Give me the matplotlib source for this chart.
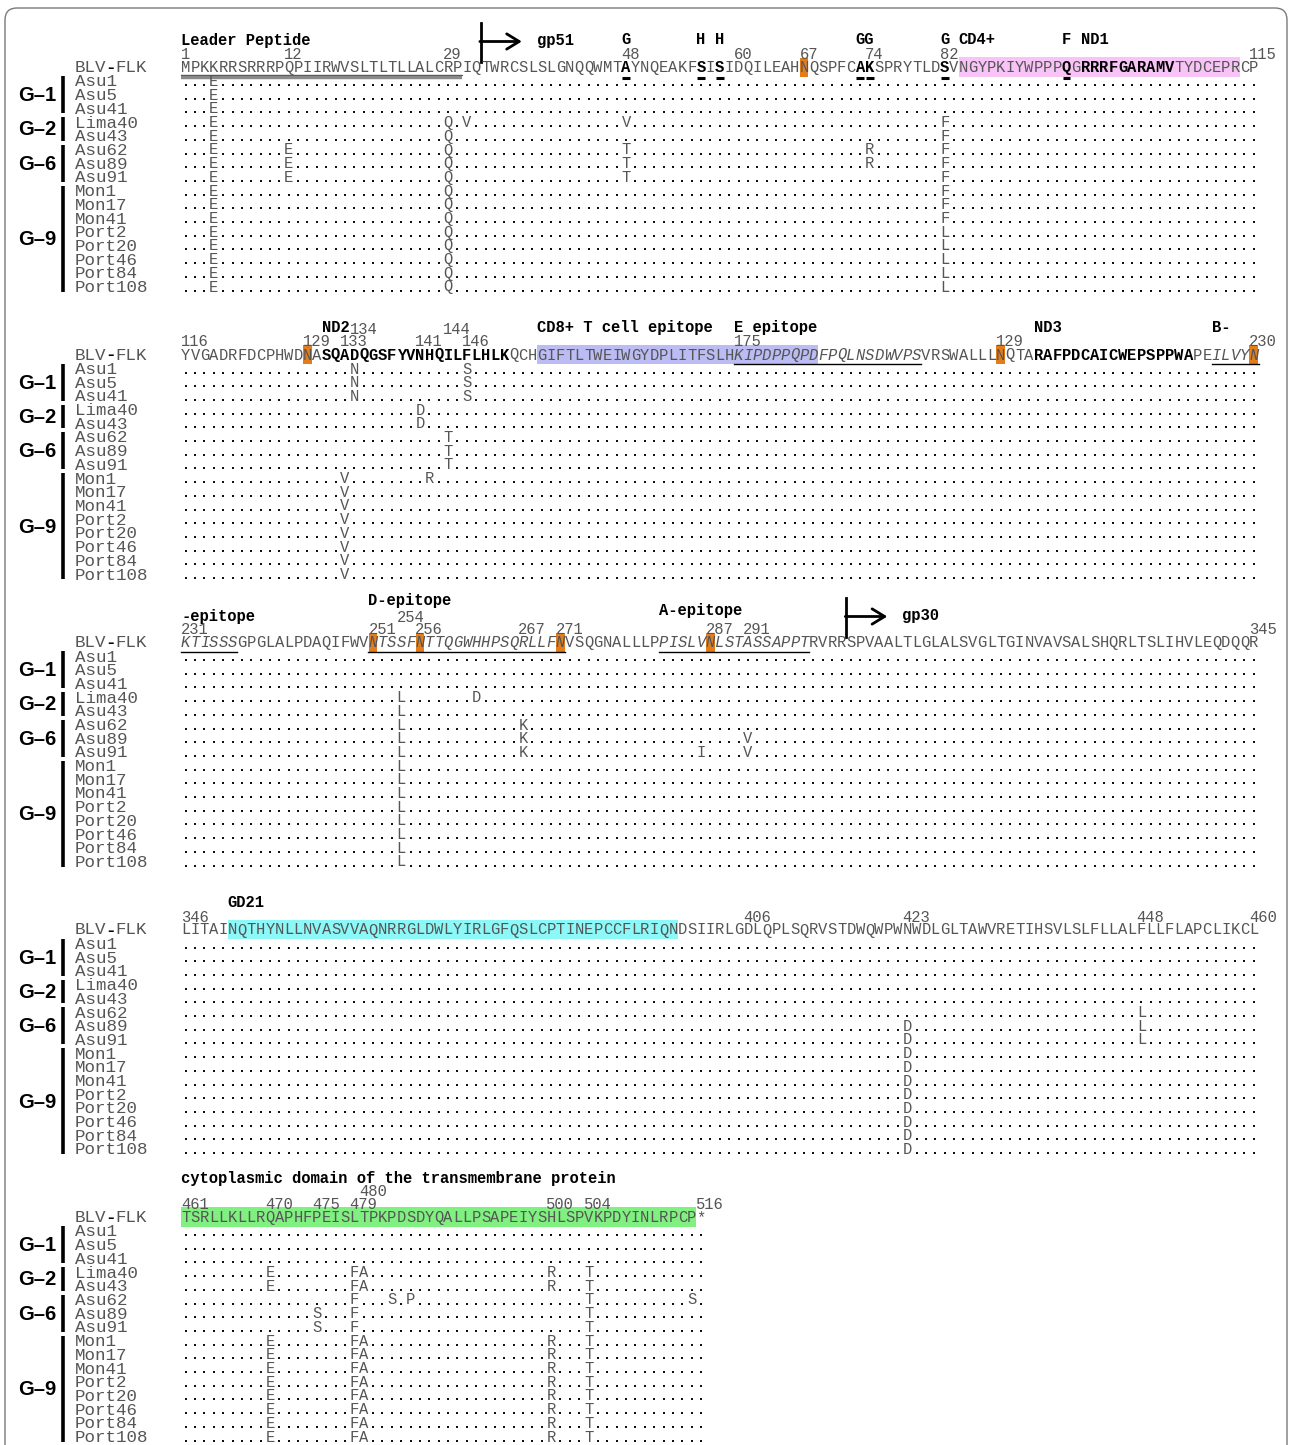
import re
import matplotlib
matplotlib.use("Agg")
import matplotlib.pyplot as plt
from matplotlib.patches import Rectangle, FancyBboxPatch

# ---------------- DATA ----------------
ENV_SEQ = ("MPKKRRSRRRPQPIIRWVSLTLTLLALCRPIQTWRCSLSLGNQQWMTAYNQEAKFSISIDQILEAHNQSPFCAKSPRYTLDSVNGYPKIYWPPPQGRRRFGARAMVTYDCEPRCP"
           "YVGADRFDCPHWDNASQADQGSFYVNHQILFLHLKQCHGIFTLTWEIWGYDPLITFSLHKIPDPPQPDFPQLNSDWVPSVRSWALLLNQTARAFPDCAICWEPSPPWAPEILVYN"
           "KTISSSGPGLALPDAQIFWVNTSSFNTTQGWHHPSQRLLFNVSQGNALLLPPISLVNLSTASSAPPTRVRRSPVAALTLGLALSVGLTGINVAVSALSHQRLTSLIHVLEQDQQR"
           "LITAINQTHYNLLNVASVVAQNRRGLDWLYIRLGFQSLCPTINEPCCFLRIQNDSIIRLGDLQPLSQRVSTDWQWPWNWDLGLTAWVRETIHSVLSLFLLALFLLFLAPCLIKCL"
           "TSRLLKLLRQAPHFPEISLTPKPDSDYQALLPSAPEIYSHLSPVKPDYINLRPCP*")
BLOCK_STARTS = [1, 116, 231, 346, 461]
BLOCK_ENDS = [115, 230, 345, 460, 516]
REFERENCE = "BLV-FLK"
STRAINS = ["Asu1", "Asu5", "Asu41", "Lima40", "Asu43", "Asu62", "Asu89", "Asu91",
           "Mon1", "Mon17", "Mon41", "Port2", "Port20", "Port46", "Port84", "Port108"]
GROUP_NAMES = ["G-1", "G-2", "G-6", "G-9"]
GROUP_MEMBERS = [["Asu1", "Asu5", "Asu41"],
                 ["Lima40", "Asu43"],
                 ["Asu62", "Asu89", "Asu91"],
                 ["Mon1", "Mon17", "Mon41", "Port2", "Port20", "Port46", "Port84", "Port108"]]

MUT_G1 = ["K4E", "D134N", "F146S"]
MUT_G9 = ["K4E", "R29Q", "A133V", "S254L", "N423D", "Q470E", "L479F", "T480A", "H500R", "V504T"]
MUTATIONS = {
    "Asu1": MUT_G1, "Asu5": MUT_G1, "Asu41": MUT_G1,
    "Lima40": ["K4E", "R29Q", "I31V", "A48V", "S82F", "N141D", "S254L", "H262D",
               "Q470E", "L479F", "T480A", "H500R", "V504T"],
    "Asu43": ["K4E", "R29Q", "S82F", "N141D", "S254L", "Q470E", "L479F", "T480A", "H500R", "V504T"],
    "Asu62": ["K4E", "Q12E", "R29Q", "A48T", "K74R", "S82F", "I144T", "S254L", "R267K",
              "F448L", "L479F", "P483S", "S485P", "V504T", "P515S"],
    "Asu89": ["K4E", "Q12E", "R29Q", "A48T", "K74R", "S82F", "I144T", "S254L", "R267K",
              "A291V", "N423D", "F448L", "P475S", "L479F", "V504T"],
    "Asu91": ["K4E", "Q12E", "R29Q", "A48T", "S82F", "I144T", "S254L", "R267K", "V286I",
              "A291V", "N423D", "F448L", "P475S", "L479F", "V504T"],
    "Mon1": MUT_G9 + ["S82F", "H142R"],
    "Mon17": MUT_G9 + ["S82F"], "Mon41": MUT_G9 + ["S82F"],
    "Port2": MUT_G9 + ["S82L"], "Port20": MUT_G9 + ["S82L"], "Port46": MUT_G9 + ["S82L"],
    "Port84": MUT_G9 + ["S82L"], "Port108": MUT_G9 + ["S82L"],
}

NUMBER_LABELS = [(1, "1"), (12, "12"), (29, "29"), (48, "48"), (60, "60"), (67, "67"), (74, "74"),
                 (82, "82"), (115, "115"),
                 (116, "116"), (129, "129"), (133, "133"), (141, "141"), (146, "146"), (175, "175"),
                 (203, "129"), (230, "230"),
                 (231, "231"), (251, "251"), (256, "256"), (267, "267"), (271, "271"), (287, "287"),
                 (291, "291"), (345, "345"),
                 (346, "346"), (406, "406"), (423, "423"), (448, "448"), (460, "460"),
                 (461, "461"), (470, "470"), (475, "475"), (479, "479"), (500, "500"), (504, "504"),
                 (516, "516")]
NUMBER_LABELS_UPPER = [(134, "134"), (144, "144"), (254, "254"), (480, "480")]

REGION_LABELS = [(1, "Leader Peptide"), (48, "G"), (56, "H"), (58, "H"), (73, "GG"), (82, "G"),
                 (84, "CD4+"), (95, "F"), (97, "ND1"),
                 (131, "ND2"), (154, "CD8+ T cell epitope"), (175, "E epitope"), (207, "ND3"), (226, "B-"),
                 (231, "-epitope"), (251, "D-epitope"), (282, "A-epitope"),
                 (351, "GD21"),
                 (461, "cytoplasmic domain of the transmembrane protein")]
CLEAVAGE_SITES = [(33, "gp51"), (302, "gp30")]

GLYCO_SITES = [67, 129, 203, 230, 251, 256, 271, 287]
BOLD_UNDERLINED = [48, 56, 58, 73, 74, 82, 95]
BOLD_RANGES = [(97, 106), (131, 150), (207, 223)]
ITALIC_UNDERLINED = [(175, 194), (226, 236), (251, 271), (282, 297)]
LEADER_RANGE = (1, 30)
HIGHLIGHT_RANGES = [(84, 113), (154, 183), (351, 398), (461, 515)]
HIGHLIGHT_COLORS = ["#f8c3f6", "#bcbcf4", "#8cf8f8", "#80f080"]

# ---------------- LAYOUT ----------------
X0, CW = 181.0, 9.37
NAME_X, NAME_CW = 75.0, 10.7
REF_Y = [67, 354.5, 642, 929.5, 1217]
ROW_DY, FIRST_DY = 13.7, 14.0
MONO = "Liberation Mono"
FS = 11.2
GRAY = "#555555"
ORANGE = "#e27d1c"
LABEL_DY = {"-epitope": -26, "D-epitope": -41, "A-epitope": -31,
            "cytoplasmic domain of the transmembrane protein": -39}

fig = plt.figure(figsize=(12.9, 14.45), dpi=100)
ax = fig.add_axes([0, 0, 1, 1])
ax.set_xlim(0, 1290)
ax.set_ylim(1445, 0)
ax.axis("off")

ax.add_patch(FancyBboxPatch((5, 8), 1282, 1470, boxstyle="round,pad=0,rounding_size=12",
                            fill=False, ec="#7a7a7a", lw=1.0, zorder=0))


def block_of(p):
    for b, (s, e) in enumerate(zip(BLOCK_STARTS, BLOCK_ENDS)):
        if s <= p <= e:
            return b, s
    return None, None


def xl(p, s):
    return X0 + (p - s) * CW


def parse(m):
    r = re.match(r"([A-Z*])(\d+)([A-Z*])", m)
    return int(r.group(2)), r.group(3)


bold_set = set(BOLD_UNDERLINED)
for a, b in BOLD_RANGES:
    bold_set.update(range(a, b + 1))
ital_set = set()
for a, b in ITALIC_UNDERLINED:
    ital_set.update(range(a, b + 1))

dots_x, dots_y = [], []
for bi, (s, e) in enumerate(zip(BLOCK_STARTS, BLOCK_ENDS)):
    R = REF_Y[bi]
    # highlights
    for (hs, he), col in zip(HIGHLIGHT_RANGES, HIGHLIGHT_COLORS):
        lo, hi = max(hs, s), min(he, e)
        if lo <= hi:
            ax.add_patch(Rectangle((xl(lo, s), R - 10), (hi - lo + 1) * CW, 19.5,
                                   fc=col, ec="none", zorder=1))
    for p in GLYCO_SITES:
        if s <= p <= e:
            ax.add_patch(Rectangle((xl(p, s) + 0.3, R - 9.5), CW - 0.6, 19,
                                   fc=ORANGE, ec="none", zorder=1.5))
    # reference sequence
    for p in range(s, e + 1):
        ch = ENV_SEQ[p - 1]
        bold = p in bold_set
        ax.text(xl(p, s) + CW / 2, R + 5, ch, family=MONO, size=FS,
                weight="bold" if bold else "normal",
                style="italic" if p in ital_set else "normal",
                color="black" if bold else GRAY, ha="center", va="baseline", zorder=3)
    # underlines
    for a, b in ITALIC_UNDERLINED:
        lo, hi = max(a, s), min(b, e)
        if lo <= hi:
            ax.plot([xl(lo, s), xl(hi + 1, s)], [R + 9.5] * 2, color="black", lw=1.0, zorder=3)
    lo, hi = max(LEADER_RANGE[0], s), min(LEADER_RANGE[1], e)
    if lo <= hi:
        ax.plot([xl(lo, s), xl(hi + 1, s)], [R + 9.5] * 2, color="#8a8a8a", lw=3.2,
                solid_capstyle="butt", zorder=3)
        ax.plot([xl(lo, s), xl(hi + 1, s)], [R + 8.2] * 2, color="#5a5a5a", lw=0.8, zorder=3)
    for p in BOLD_UNDERLINED:
        if s <= p <= e:
            ax.plot([xl(p, s) + 0.8, xl(p + 1, s) - 0.8], [R + 10.5] * 2, color="black",
                    lw=2.2, solid_capstyle="butt", zorder=3)
    # reference name
    ax.text(NAME_X, R + 5, "BLV", family=MONO, size=12.6, color=GRAY, ha="left", va="baseline")
    ax.text(NAME_X + 3 * NAME_CW + NAME_CW / 2 - 1.5, R + 5, "-", family=MONO, size=12.6,
            weight="bold", color="black", ha="center", va="baseline")
    ax.text(NAME_X + 4 * NAME_CW - 2, R + 5, "FLK", family=MONO, size=12.6, color=GRAY,
            ha="left", va="baseline")
    # strain rows
    for i, strain in enumerate(STRAINS):
        yc = R + FIRST_DY + i * ROW_DY
        ax.text(NAME_X, yc + 5.5, strain, family=MONO, size=12.6, color=GRAY,
                ha="left", va="baseline")
        muts = dict(parse(m) for m in MUTATIONS[strain])
        for p in range(s, e + 1):
            if p in muts:
                ax.text(xl(p, s) + CW / 2, yc + 5, muts[p], family=MONO, size=FS, color=GRAY,
                        ha="center", va="baseline", zorder=3)
            else:
                dots_x.append(xl(p, s) + CW / 2)
                dots_y.append(yc + 4.0)
    # group labels and bars
    for gname, members in zip(GROUP_NAMES, GROUP_MEMBERS):
        idx = [STRAINS.index(m) for m in members]
        y0 = R + FIRST_DY + idx[0] * ROW_DY
        y1 = R + FIRST_DY + idx[-1] * ROW_DY
        ax.plot([63, 63], [y0 - 5, y1 + 5], color="black", lw=2.6, solid_capstyle="butt")
        ax.text(37, (y0 + y1) / 2 + 1, gname.replace("-", "\u2013"), family="Liberation Sans",
                weight="bold", size=14.5, color="black", ha="center", va="center")

ax.scatter(dots_x, dots_y, s=3.2, marker="s", c="#111111", linewidths=0, zorder=3)

# numbers
for p, lab in NUMBER_LABELS:
    b, s = block_of(p)
    ax.text(xl(p, s), REF_Y[b] - 8, lab, family=MONO, size=FS, color=GRAY, ha="left", va="baseline")
for p, lab in NUMBER_LABELS_UPPER:
    b, s = block_of(p)
    ax.text(xl(p, s), REF_Y[b] - 20.5, lab, family=MONO, size=FS, color=GRAY, ha="left", va="baseline")

# region labels
for p, lab in REGION_LABELS:
    b, s = block_of(p)
    dy = LABEL_DY.get(lab, -27)
    ax.text(xl(p, s), REF_Y[b] + dy, lab, family=MONO, size=FS, weight="bold", color="black",
            ha="left", va="center")

# cleavage arrows
for p, lab in CLEAVAGE_SITES:
    b, s = block_of(p)
    R = REF_Y[b]
    x = xl(p, s)
    ax.plot([x, x], [R - 44, R - 5], color="black", lw=2.0)
    ya = R - 25.5
    ax.annotate("", xy=(x + 41, ya), xytext=(x - 1, ya),
                arrowprops=dict(arrowstyle="->,head_length=0.9,head_width=0.55", lw=2.0,
                                color="black", shrinkA=0, shrinkB=0))
    ax.text(x + 56, ya - 1, lab, family=MONO, size=FS, weight="bold", color="black",
            ha="left", va="center")

fig.savefig("out.png", dpi=100)
